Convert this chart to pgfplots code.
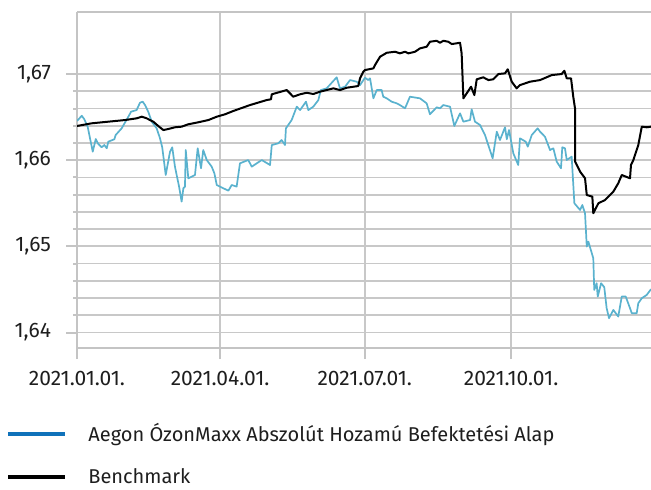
\documentclass[border=0pt]{standalone}
\usepackage{fontspec}
\setmainfont{Fira Sans}
\usepackage{pgfplots}
\pgfplotsset{compat=1.18}
\definecolor{fundline}{RGB}{90,178,206}
\definecolor{fundlegend}{RGB}{16,114,186}
\definecolor{gridgrey}{RGB}{200,200,200}
\definecolor{axisgrey}{RGB}{196,196,196}
\definecolor{labelcol}{RGB}{30,30,30}
\begin{document}
\fontsize{10}{12}\selectfont
\begin{tikzpicture}
\useasboundingbox (0,0) rectangle (325.5pt,244.5pt);
\begin{axis}[
  at={(38.5pt,70.5pt)}, anchor=south west,
  scale only axis, width=287pt, height=168pt,
  xmin=0, xmax=361, ymin=1.6382, ymax=1.6772,
  axis x line*=box, axis y line*=left,
  axis line style={axisgrey, line width=1.3pt},
  xtick={0,90,181,273},
  xticklabels={2021.01.01.,2021.04.01.,2021.07.01.,2021.10.01.},
  ytick={1.64,1.65,1.66,1.67},
  minor y tick num=4,
  xtick pos=left, ytick pos=left,
  tick align=outside,
  major tick length=5.5pt, minor tick length=2pt,
  every tick/.style={axisgrey, line width=1pt},
  xmajorgrids, ymajorgrids, yminorgrids,
  grid style={gridgrey, line width=0.9pt},
  minor grid style={gridgrey, line width=0.9pt},
  /pgf/number format/assume math mode=true,
  /pgf/number format/use comma,
  /pgf/number format/fixed,
  /pgf/number format/fixed zerofill,
  /pgf/number format/precision=2,
  yticklabel style={xshift=-4pt},
  xticklabel style={yshift=-2.5pt},
  ticklabel style={font=\fontsize{10.5}{12.6}\selectfont, text=labelcol},
  legend image code/.code={\draw[#1] (0pt,0pt) -- (28.5pt,0pt);},
  legend style={draw=none, fill=none, at={(axis description cs:-0.1237,-0.222)}, anchor=north west,
    inner sep=0pt, row sep=12pt, nodes={inner sep=0pt, text=labelcol},
    font=\fontsize{10}{12}\selectfont,
    /tikz/every odd column/.append style={column sep=10.5pt}},
  legend cell align=left,
]
\addlegendimage{fundlegend, line width=2pt}
\addlegendentry{Aegon ÓzonMaxx Abszolút Hozamú Befektetési Alap}
\addlegendimage{black, line width=2pt}
\addlegendentry{Benchmark}

\addplot[forget plot, fundline, line width=0.85pt, line join=round] coordinates {
(0,1.66455)(3.0,1.66516)(4.6,1.66475)(6.7,1.66389)(9.9,1.66099)(11.8,1.66246)(13.4,1.66188)
(15.5,1.66150)(17.2,1.66176)(18.7,1.66138)(19.7,1.66215)(23.5,1.66243)(24.3,1.66292)(28.1,1.66370)
(32.3,1.66505)(34.0,1.66563)(37.5,1.66582)(39.6,1.66667)(41.3,1.66679)(42.8,1.66640)(44.8,1.66563)
(47.0,1.66447)(50.1,1.66370)(52.2,1.66254)(53.6,1.66150)(55.8,1.65828)(58.5,1.66099)(59.9,1.66150)
(61.6,1.65925)(64.2,1.65693)(65.8,1.65519)(66.9,1.65674)(67.9,1.65693)(68.4,1.66118)(70.0,1.65790)
(74.2,1.65828)(75.9,1.66138)(78.0,1.65906)(79.4,1.66118)(81.6,1.66002)(84.7,1.65925)(86.4,1.65848)
(87.9,1.65712)(89.9,1.65693)(95.2,1.65646)(97.3,1.65712)(100.4,1.65693)(102.5,1.65964)(107.7,1.66002)
(109.9,1.65925)(116.2,1.66002)(121.4,1.65944)(122.5,1.66176)(126.6,1.66196)(128.7,1.66234)(130.8,1.66176)
(131.4,1.66370)(135.0,1.66466)(138.2,1.66621)(140.3,1.66582)(144.0,1.66679)(145.5,1.66582)(148.6,1.66621)
(151.8,1.66698)(153.3,1.66814)(157.0,1.66834)(160.2,1.66899)(163.3,1.66962)(165.4,1.66834)(168.6,1.66853)
(171.7,1.66930)(175.9,1.66911)(178.0,1.66872)(181.1,1.66957)(183.2,1.66930)(184.3,1.66950)(186.4,1.66718)
(188.5,1.66814)(191.6,1.66814)(192.6,1.66737)(194.8,1.66718)(197.9,1.66679)(201.1,1.66660)(203.1,1.66640)
(206.3,1.66602)(209.4,1.66737)(215.7,1.66718)(219.9,1.66660)(222.0,1.66533)(226.2,1.66614)(228.3,1.66602)
(230.4,1.66640)(234.6,1.66621)(237.3,1.66397)(240.9,1.66544)(243.0,1.66447)(247.2,1.66466)(248.2,1.66591)
(250.3,1.66447)(253.5,1.66408)(256.6,1.66292)(261.4,1.66022)(264.0,1.66331)(266.0,1.66234)(269.2,1.66382)
(270.3,1.66243)(271.7,1.66350)(274.4,1.66080)(277.5,1.65944)(278.6,1.66254)(282.2,1.66215)(283.5,1.66157)
(286.0,1.66292)(289.7,1.66370)(291.2,1.66331)(294.3,1.66273)(297.5,1.66118)(299.6,1.66138)(301.7,1.65983)
(304.4,1.65906)(305.2,1.66150)(306.9,1.66138)(308.0,1.66002)(311.1,1.66041)(312.8,1.65500)(316.4,1.65422)
(317.8,1.65480)(319.5,1.65384)(320.6,1.64997)(321.6,1.65055)(324.7,1.64862)(325.3,1.64494)(326.8,1.64572)
(327.5,1.64417)(329.6,1.64572)(331.6,1.64526)(333.1,1.64282)(334.6,1.64166)(337.3,1.64262)(340.4,1.64185)
(342.6,1.64417)(345.1,1.64417)(347.8,1.64282)(348.9,1.64224)(352.0,1.64224)(353.0,1.64340)(355.2,1.64398)
(358.3,1.64436)(361.0,1.64503)
};
\addplot[forget plot, black, line width=1pt, line join=round] coordinates {
(0,1.66397)(9.2,1.66428)(19.7,1.66447)(30.2,1.66466)(37.5,1.66486)(40.7,1.66505)(43.8,1.66486)
(48.0,1.66447)(51.1,1.66397)(54.3,1.66350)(57.4,1.66362)(61.6,1.66382)(65.8,1.66389)(70.0,1.66417)
(76.3,1.66440)(82.6,1.66466)(87.9,1.66505)(93.1,1.66533)(98.3,1.66571)(108.8,1.66640)(119.3,1.66698)
(122.0,1.66707)(122.5,1.66765)(131.9,1.66814)(136.0,1.66737)(140.3,1.66765)(144.5,1.66783)(148.6,1.66768)
(152.8,1.66795)(161.2,1.66834)(165.4,1.66814)(169.6,1.66841)(176.9,1.66861)(178.0,1.66950)(180.1,1.67027)
(181.1,1.67046)(186.4,1.67066)(187.4,1.67104)(190.6,1.67201)(194.8,1.67247)(200.0,1.67259)(203.1,1.67240)
(206.3,1.67259)(208.4,1.67240)(212.6,1.67259)(215.7,1.67298)(219.9,1.67317)(222.0,1.67375)(226.2,1.67386)
(228.3,1.67363)(230.4,1.67386)(233.5,1.67375)(235.7,1.67348)(240.9,1.67363)(241.9,1.67240)(243.0,1.66718)
(245.1,1.66776)(247.8,1.66853)(249.9,1.66756)(251.4,1.66939)(255.5,1.66962)(258.7,1.66930)(261.8,1.66939)
(265.0,1.67000)(269.2,1.67008)(270.9,1.67055)(273.4,1.66911)(276.5,1.66834)(278.6,1.66872)(284.9,1.66911)
(291.2,1.66930)(298.6,1.66988)(304.8,1.67000)(306.5,1.67038)(308.0,1.66950)(310.7,1.66950)(312.1,1.66737)
(313.2,1.66602)(313.3,1.65983)(316.4,1.65867)(319.5,1.65790)(320.6,1.65596)(324.1,1.65577)(324.7,1.65384)
(327.9,1.65500)(332.1,1.65538)(334.2,1.65577)(337.3,1.65635)(340.4,1.65732)(342.6,1.65828)(347.8,1.65790)
(348.4,1.65944)(349.9,1.66002)(353.0,1.66176)(355.2,1.66389)(358.3,1.66382)(361.0,1.66389)
};
\end{axis}
\end{tikzpicture}
\end{document}
